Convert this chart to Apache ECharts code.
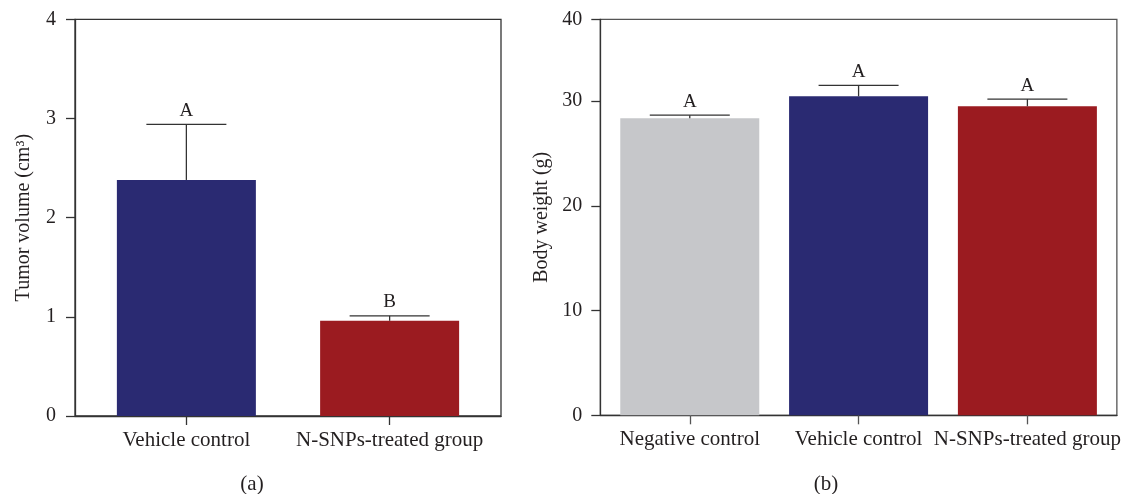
<!DOCTYPE html>
<html>
<head>
<meta charset="utf-8">
<script src="https://cdn.jsdelivr.net/npm/echarts@6/dist/echarts.min.js"></script>
<style>
html,body{margin:0;padding:0;background:#fff;}
#c{width:1124px;height:494px;}
</style>
</head>
<body>
<div id="c"></div>
<script>
// ---- Panel (a): tumor volume ----
const catsA = ['Vehicle control', 'N-SNPs-treated group'];
const meanA = [2.38, 0.96];
const errA = [0.56, 0.05];
const letterA = ['A', 'B'];
const colorA = ['#2a2a72', '#9b1b20'];
const yTicksA = [0, 1, 2, 3, 4];

// ---- Panel (b): body weight ----
const catsB = ['Negative control', 'Vehicle control', 'N-SNPs-treated group'];
const meanB = [28.35, 30.45, 29.5];
const errB = [0.3, 1.05, 0.68];
const letterB = ['A', 'A', 'A'];
const colorB = ['#c6c7ca', '#2a2a72', '#9b1b20'];
const yTickValsB = [0, 10, 20, 30, 37.8];   // axis top drawn at 37.8 but labelled 40 in the figure
const yTickLabelsB = ['0', '10', '20', '30', '40'];

const FONT = '"Liberation Serif", "DejaVu Serif", serif';
const TXT = '#231f20';
const AX = '#333333';

function errSeries(xi, yi, means, errs, letters) {
  return {
    type: 'custom',
    xAxisIndex: xi, yAxisIndex: yi,
    z: 5,
    data: means.map((m, i) => [i, m, errs[i]]),
    renderItem: function (params, api) {
      const x = api.value(0), m = api.value(1), e = api.value(2);
      const p0 = api.coord([x, m]);
      const p1 = api.coord([x, m + e]);
      const half = 40;
      return {
        type: 'group',
        children: [
          { type: 'line', shape: { x1: p0[0], y1: p0[1], x2: p1[0], y2: p1[1] }, style: { stroke: AX, lineWidth: 1.3 } },
          { type: 'line', shape: { x1: p1[0] - half, y1: p1[1], x2: p1[0] + half, y2: p1[1] }, style: { stroke: AX, lineWidth: 1.3 } },
          { type: 'text', x: p1[0], y: p1[1] - 4, style: { text: letters[params.dataIndex], fill: TXT, font: '19px ' + FONT, align: 'center', verticalAlign: 'bottom' } }
        ]
      };
    }
  };
}

const chart = echarts.init(document.getElementById('c'), null, { renderer: 'canvas' });
chart.setOption({
  animation: false,
  backgroundColor: '#ffffff',
  grid: [
    { left: 75, right: 623, top: 19.3, bottom: 78, show: true, borderColor: AX, borderWidth: 1.3, backgroundColor: 'transparent' },
    { left: 600.3, right: 5.5, top: 19.3, bottom: 78.7, show: true, borderColor: '#555', borderWidth: 1.3, backgroundColor: 'transparent' }
  ],
  xAxis: [
    {
      type: 'value', gridIndex: 0, min: -0.548, max: 1.548,
      splitLine: { show: false },
      axisLine: { show: true, onZero: false, lineStyle: { color: AX, width: 1.3 } },
      axisTick: { show: true, length: 9, customValues: [0, 1], lineStyle: { color: AX, width: 1.3 } },
      axisLabel: { customValues: [0, 1], formatter: v => catsA[Math.round(v)], color: TXT, fontFamily: FONT, fontSize: 21, margin: 14 }
    },
    {
      type: 'value', gridIndex: 1, min: -0.53, max: 2.53,
      splitLine: { show: false },
      axisLine: { show: true, onZero: false, lineStyle: { color: AX, width: 1.3 } },
      axisTick: { show: true, length: 9, customValues: [0, 1, 2], lineStyle: { color: '#555', width: 1.3 } },
      axisLabel: { customValues: [0, 1, 2], formatter: v => catsB[Math.round(v)], color: TXT, fontFamily: FONT, fontSize: 21, margin: 14 }
    }
  ],
  yAxis: [
    {
      type: 'value', gridIndex: 0, min: 0, max: 4, interval: 1,
      splitLine: { show: false },
      axisLine: { show: true, onZero: false, lineStyle: { color: AX, width: 1.3 } },
      axisTick: { show: true, length: 9, lineStyle: { color: AX, width: 1.3 } },
      axisLabel: { formatter: v => String(yTicksA[Math.round(v)]), color: TXT, fontFamily: FONT, fontSize: 20, margin: 19 },
      name: 'Tumor volume (cm³)', nameLocation: 'middle', nameGap: 41, nameRotate: 90,
      nameTextStyle: { color: TXT, fontFamily: FONT, fontSize: 20 }
    },
    {
      type: 'value', gridIndex: 1, min: 0, max: 37.8,
      splitLine: { show: false },
      axisLine: { show: true, onZero: false, lineStyle: { color: AX, width: 1.3 } },
      axisTick: { show: true, length: 9, customValues: yTickValsB, lineStyle: { color: AX, width: 1.3 } },
      axisLabel: { customValues: yTickValsB, formatter: v => yTickLabelsB[yTickValsB.indexOf(v)], color: TXT, fontFamily: FONT, fontSize: 20, margin: 18 },
      name: 'Body weight (g)', nameLocation: 'middle', nameGap: 49, nameRotate: 90,
      nameTextStyle: { color: TXT, fontFamily: FONT, fontSize: 20 }
    }
  ],
  series: [
    {
      type: 'bar', xAxisIndex: 0, yAxisIndex: 0, barWidth: 139,
      data: meanA.map((m, i) => ({ value: [i, m], itemStyle: { color: colorA[i] } }))
    },
    errSeries(0, 0, meanA, errA, letterA),
    {
      type: 'bar', xAxisIndex: 1, yAxisIndex: 1, barWidth: 139,
      data: meanB.map((m, i) => ({ value: [i, m], itemStyle: { color: colorB[i] } }))
    },
    errSeries(1, 1, meanB, errB, letterB)
  ],
  graphic: [
    { type: 'text', x: 252, y: 484, style: { text: '(a)', fill: TXT, font: '21px ' + FONT, align: 'center', verticalAlign: 'middle' } },
    { type: 'text', x: 826, y: 484, style: { text: '(b)', fill: TXT, font: '21px ' + FONT, align: 'center', verticalAlign: 'middle' } }
  ]
});
</script>
</body>
</html>
